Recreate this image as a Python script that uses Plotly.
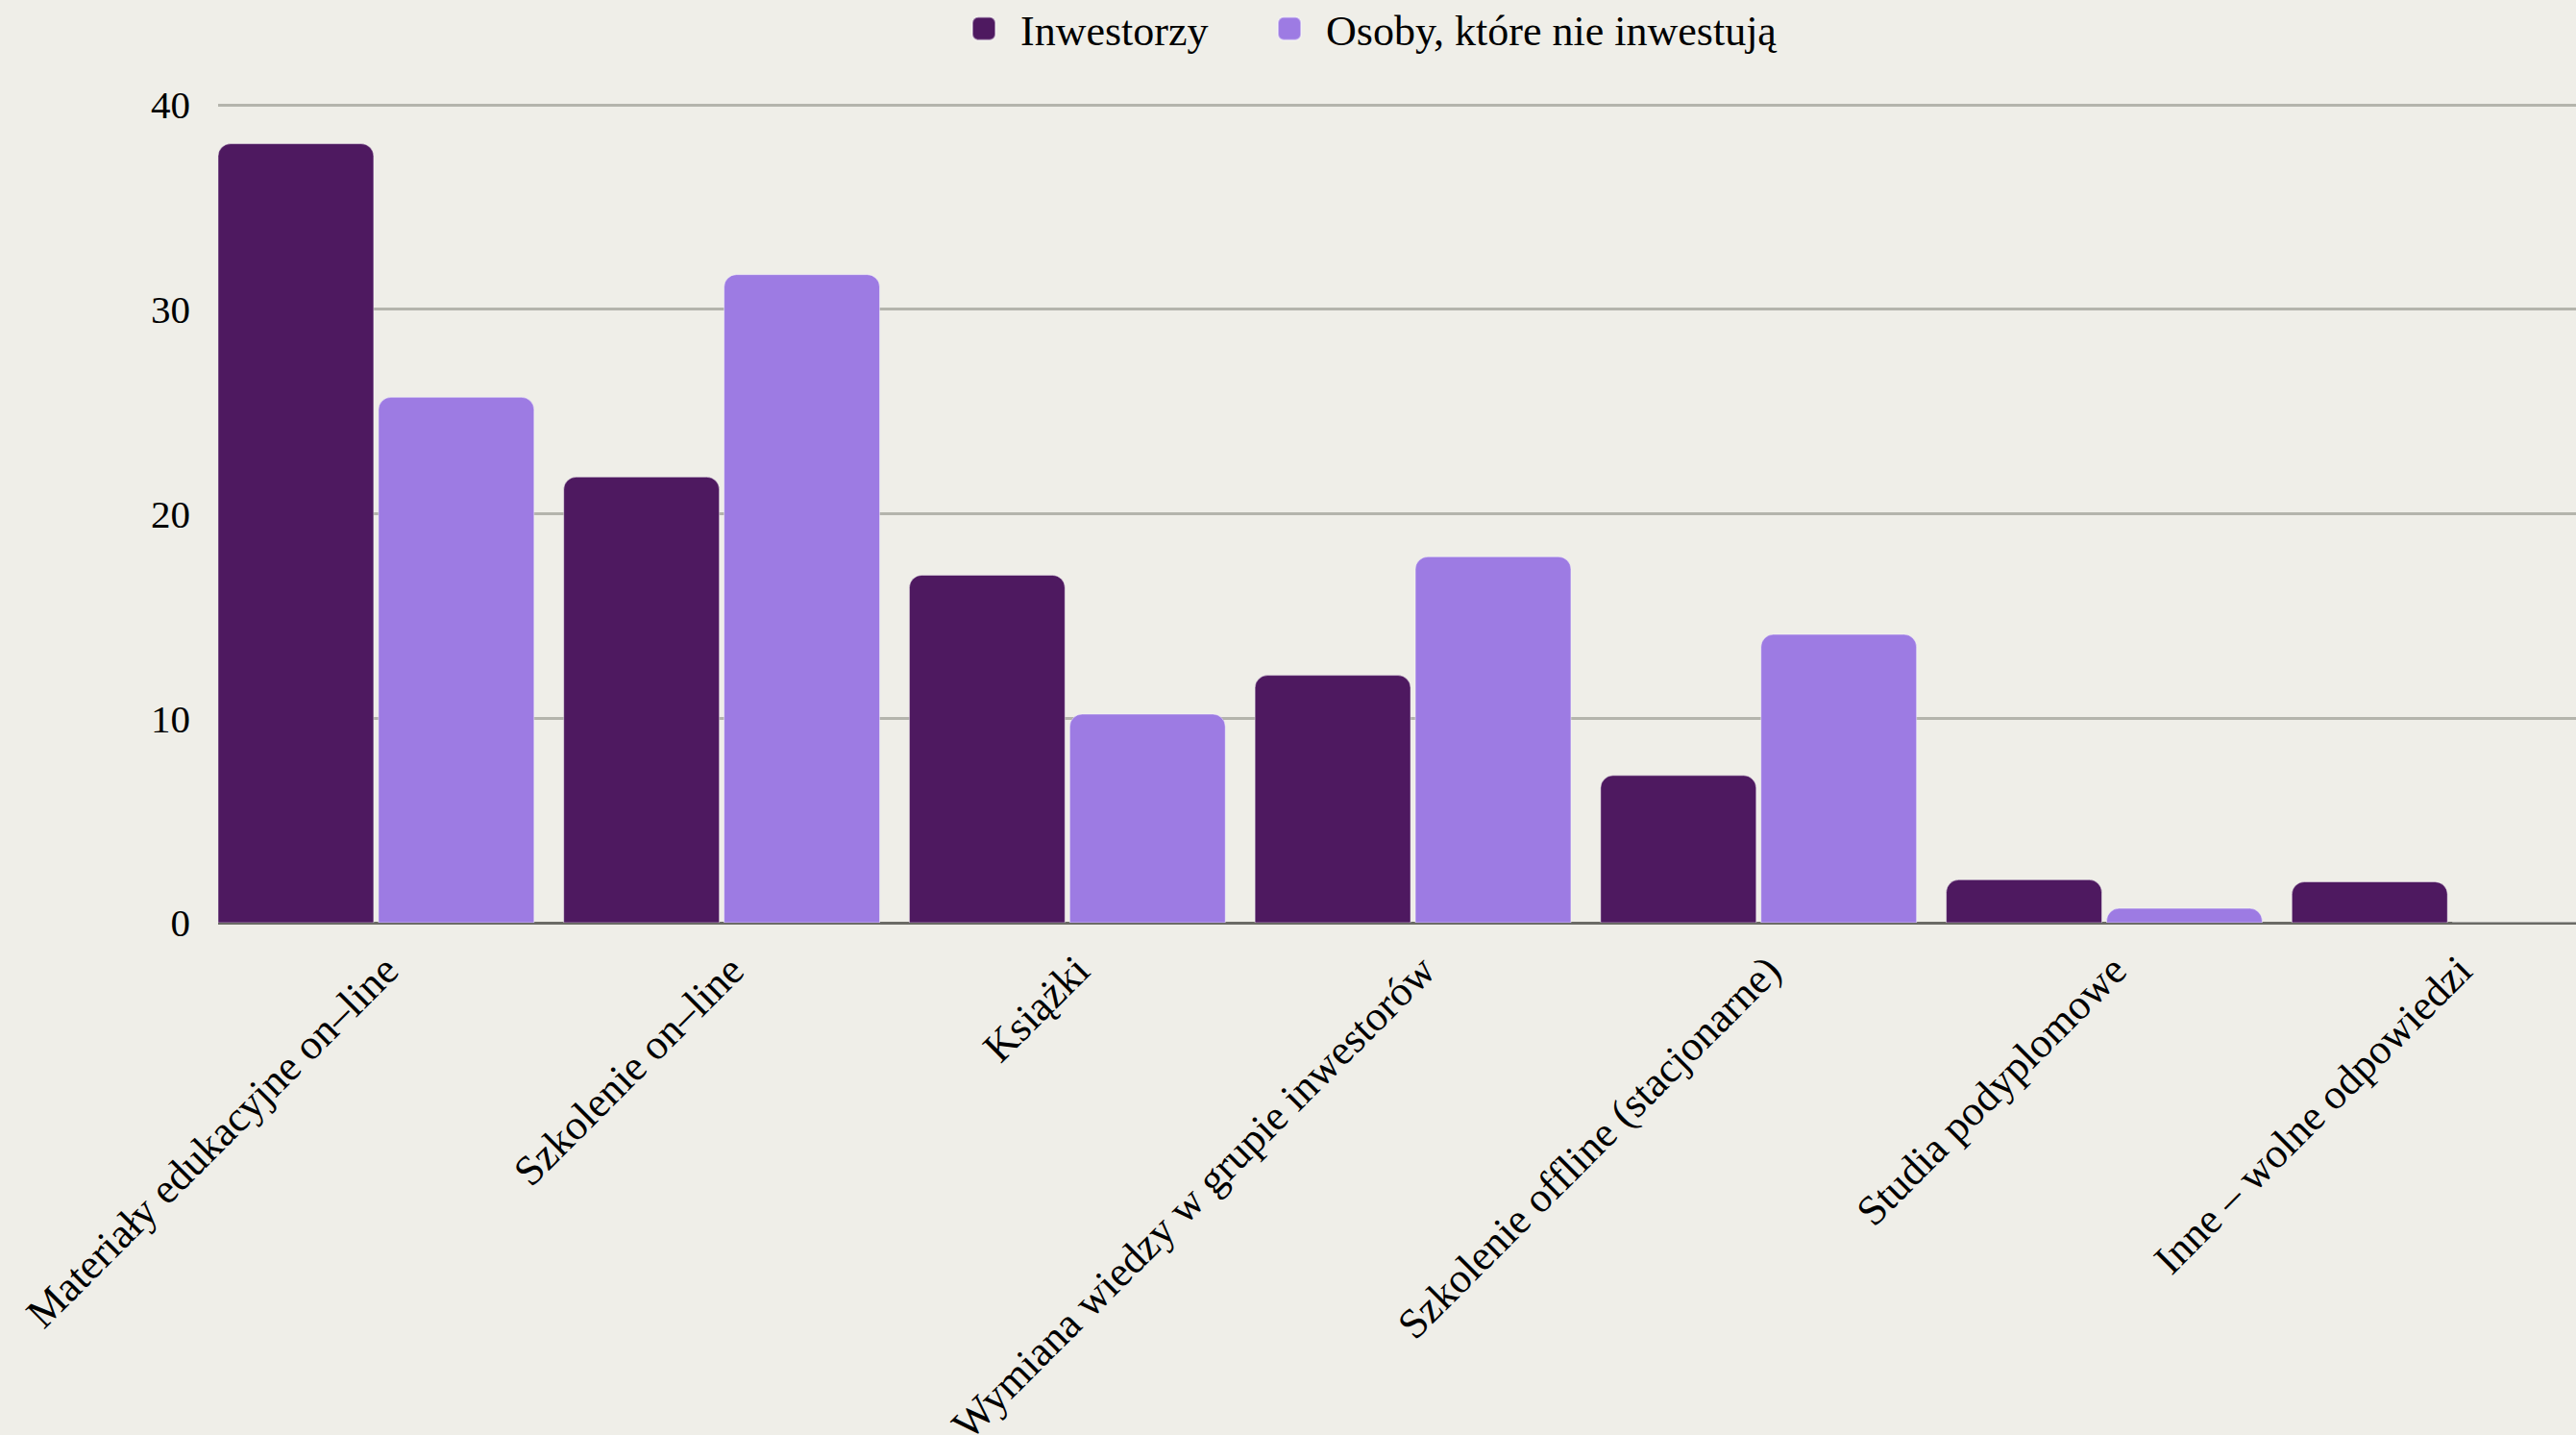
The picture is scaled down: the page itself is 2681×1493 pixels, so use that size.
import plotly.graph_objects as go

# Survey: sources of investment knowledge (share of answers, %)
categories = [
    "Materiały edukacyjne on–line",
    "Szkolenie on–line",
    "Książki",
    "Wymiana wiedzy w grupie inwestorów",
    "Szkolenie offline (stacjonarne)",
    "Studia podyplomowe",
    "Inne – wolne odpowiedzi",
]
investors = [38.1, 21.8, 17.0, 12.1, 7.2, 2.1, 2.0]
non_investors = [25.7, 31.7, 10.2, 17.9, 14.1, 0.7, 0.0]

series_names = ["Inwestorzy", "Osoby, które nie inwestują"]
y_ticks = [0, 10, 20, 30, 40]

DARK = "#4E1960"
LIGHT = "#9D7BE3"
BG = "#EFEEE8"
FONT = "Liberation Serif"

fig = go.Figure()
for name, vals, col, leg in [(series_names[0], investors, DARK, "legend"),
                             (series_names[1], non_investors, LIGHT, "legend2")]:
    fig.add_trace(go.Bar(
        x=categories, y=vals, name=name, legend=leg,
        marker=dict(color=col, cornerradius=13,
                    line=dict(color="rgba(255,255,255,0.45)", width=1)),
    ))

legend_style = dict(
    orientation="h", xanchor="left", yanchor="middle", y=1.09,
    font=dict(family=FONT, size=44, color="#000000"),
    bgcolor="rgba(0,0,0,0)", itemwidth=66,
)

fig.update_layout(
    width=2681, height=1493, autosize=False,
    paper_bgcolor=BG, plot_bgcolor=BG,
    margin=dict(l=227, r=0, t=107, b=533, autoexpand=False),
    barmode="group", bargap=0.072, bargroupgap=0.03,
    font=dict(family=FONT, size=44, color="#000000"),
    showlegend=True,
    legend=dict(x=0.3093, **legend_style),
    legend2=dict(x=0.4389, **legend_style),
    xaxis=dict(
        range=[-0.457, 6.365], tickangle=-45, showgrid=False, showline=False,
        ticks="", automargin=False, tickfont=dict(family=FONT, size=44),
        ticklabelstandoff=14, ticklabelshift=10,
    ),
    yaxis=dict(
        range=[0, 40.1], tickvals=y_ticks, showgrid=True,
        gridcolor="#B4B4AC", gridwidth=3, zeroline=True,
        zerolinecolor="#6B6B66", zerolinewidth=3, showline=False, ticks="",
        ticklabelstandoff=28, automargin=False,
        tickfont=dict(family=FONT, size=41),
    ),
)

# Enlarge the legend swatches (keep plotly's own placement transform)
post = """
var gd = document.getElementById('{plot_id}');
function bigSwatches(){
  gd.querySelectorAll('.legendpoints path').forEach(function(p){
    var base = p.getAttribute('data-base-tf');
    if (base === null) {
      base = p.getAttribute('transform') || '';
      p.setAttribute('data-base-tf', base);
    }
    p.setAttribute('transform', base + ' scale(2)');
  });
}
bigSwatches();
gd.on('plotly_afterplot', bigSwatches);
"""

fig.write_html("out.html", post_script=post)
